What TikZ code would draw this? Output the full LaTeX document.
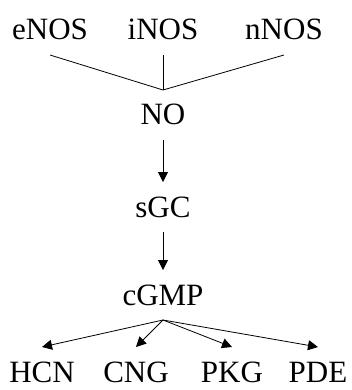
\documentclass[tikz,border=0pt]{standalone}
\usepackage{fontspec}
\setmainfont{Liberation Serif}
\usetikzlibrary{arrows.meta}
\begin{document}
\begin{tikzpicture}[x=1pt, y=-1pt, line width=0.8pt,
	lbl/.style={font=\fontsize{31}{37}\selectfont, inner sep=0pt, text height=20pt, text depth=0pt, outer sep=15pt, anchor=base},
	arr/.style={-{Triangle[length=10pt,width=10pt]}}]
\useasboundingbox (0, 0) rectangle (351, 390);

\node[lbl] (eNOS) at (50, 40) {eNOS};
\node[lbl] (iNOS) at (163, 40) {iNOS};
\node[lbl] (nNOS) at (284, 40) {nNOS};

\coordinate (J) at (163, 90);
\draw (eNOS.south) -- (J);
\draw (iNOS.south) -- (J);
\draw (nNOS.south) -- (J);

\node[lbl] (NO) at (163, 125) {NO};
\node[lbl] (sGC) at (163, 217) {sGC};
\node[lbl] (cGMP) at (163, 305) {cGMP};

\draw[arr] (NO.south) -- (sGC.north);
\draw[arr] (sGC.south) -- (cGMP.north);

\node[lbl] (HCN) at (42, 382) {HCN};
\node[lbl] (CNG) at (136, 382) {CNG};
\node[lbl] (PKG) at (232, 382) {PKG};
\node[lbl] (PDE) at (318, 382) {PDE};

\foreach \t in {HCN, CNG, PKG, PDE}
	\draw[arr] (cGMP.south) -- (\t.north);
\end{tikzpicture}
\end{document}
